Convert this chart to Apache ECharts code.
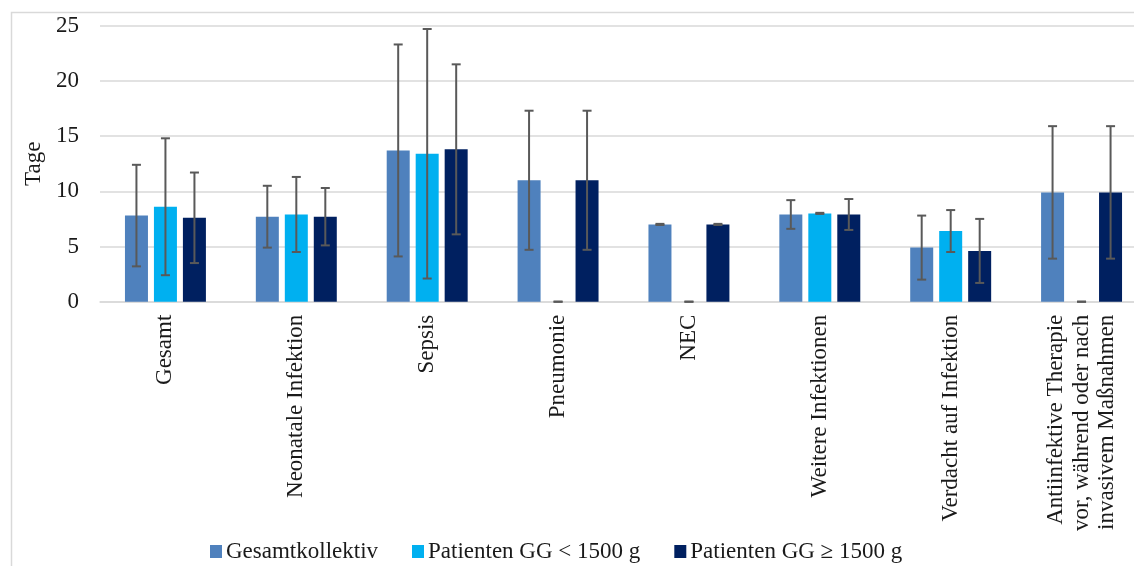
<!DOCTYPE html>
<html>
<head>
<meta charset="utf-8">
<script src="https://cdn.jsdelivr.net/npm/echarts@6/dist/echarts.min.js"></script>
<style>html,body{margin:0;padding:0;background:#fff;overflow:hidden}#c{width:1160px;height:566px}</style>
</head>
<body>
<div id="c"></div>
<script>
const categories = ['Gesamt','Neonatale Infektion','Sepsis','Pneumonie','NEC','Weitere Infektionen','Verdacht auf Infektion','Antiinfektive Therapie\nvor, während oder nach\ninvasivem Maßnahmen'];
const seriesNames = ['Gesamtkollektiv','Patienten GG < 1500 g','Patienten GG ≥ 1500 g'];
const gesamt     = [7.8, 7.7, 13.7, 11.0, 7.0, 7.9, 4.9, 9.9];
const gesamtSD   = [4.6, 2.8, 9.6, 6.3, 0.05, 1.3, 2.9, 6.0];
const unter1500  = [8.6, 7.9, 13.4, 0, 0, 8.0, 6.4, 0];
const unter1500SD= [6.2, 3.4, 11.3, 0, 0, 0.05, 1.9, 0];
const ueber1500  = [7.6, 7.7, 13.8, 11.0, 7.0, 7.9, 4.6, 9.9];
const ueber1500SD= [4.1, 2.6, 7.7, 6.3, 0.05, 1.4, 2.9, 6.0];
const yTicks = [0, 5, 10, 15, 20, 25];

const colors = ['#4F81BD', '#00B0F0', '#002060'];
const FONT = 'Liberation Serif';
const FS = 23;
const BAR_W = 23, STEP = 29;

function errSeries(vals, sds, k) {
  const off = (k - 1) * STEP;
  return {
    type: 'custom', silent: true, z: 10,
    encode: {x: 0, y: [1, 2]},
    data: vals.map((v, i) => [i, v - sds[i], v + sds[i]]),
    renderItem: function (params, api) {
      const i = api.value(0);
      const lo = api.coord([i, api.value(1)]);
      const hi = api.coord([i, api.value(2)]);
      const x = lo[0] + off;
      const st = {stroke: '#595959', lineWidth: 2};
      return {type: 'group', children: [
        {type: 'line', shape: {x1: x, y1: lo[1], x2: x, y2: hi[1]}, style: st},
        {type: 'line', shape: {x1: x - 4.5, y1: lo[1], x2: x + 4.5, y2: lo[1]}, style: st},
        {type: 'line', shape: {x1: x - 4.5, y1: hi[1], x2: x + 4.5, y2: hi[1]}, style: st}
      ]};
    }
  };
}

const chart = echarts.init(document.getElementById('c'));
chart.setOption({
  animation: false,
  textStyle: {fontFamily: FONT},
  graphic: [{type: 'rect', shape: {x: 11.5, y: 12.5, width: 1300, height: 700},
    style: {fill: 'none', stroke: '#d9d9d9', lineWidth: 1.5}, z: -10}],
  grid: {left: 100, top: 25.7, width: 1047, height: 276},
  legend: {
    data: seriesNames, top: 540, left: 210, padding: 0, icon: 'rect',
    itemWidth: 12, itemHeight: 13, itemGap: 34,
    textStyle: {fontFamily: FONT, fontSize: FS, color: '#1a1a1a', padding: [0, 0, 0, -1]}
  },
  xAxis: {
    type: 'category', data: categories,
    axisTick: {show: false},
    axisLine: {show: true, lineStyle: {color: '#d9d9d9', width: 1.5}},
    axisLabel: {rotate: 90, interval: 0, margin: 13, fontFamily: FONT, fontSize: FS, color: '#1a1a1a', lineHeight: 25.5}
  },
  yAxis: {
    type: 'value', min: yTicks[0], max: yTicks[yTicks.length - 1], interval: 5,
    name: 'Tage', nameLocation: 'middle', nameRotate: 90, nameGap: 46,
    nameTextStyle: {fontFamily: FONT, fontSize: FS, color: '#1a1a1a'},
    axisLine: {show: false}, axisTick: {show: false},
    axisLabel: {margin: 21, fontFamily: FONT, fontSize: FS, color: '#1a1a1a'},
    splitLine: {lineStyle: {color: '#d9d9d9', width: 1.5}}
  },
  series: [
    {name: seriesNames[0], type: 'bar', data: gesamt, barWidth: BAR_W, barGap: '26%', itemStyle: {color: colors[0]}},
    {name: seriesNames[1], type: 'bar', data: unter1500, barWidth: BAR_W, barGap: '26%', itemStyle: {color: colors[1]}},
    {name: seriesNames[2], type: 'bar', data: ueber1500, barWidth: BAR_W, barGap: '26%', itemStyle: {color: colors[2]}},
    errSeries(gesamt, gesamtSD, 0),
    errSeries(unter1500, unter1500SD, 1),
    errSeries(ueber1500, ueber1500SD, 2)
  ]
});
</script>
</body>
</html>
